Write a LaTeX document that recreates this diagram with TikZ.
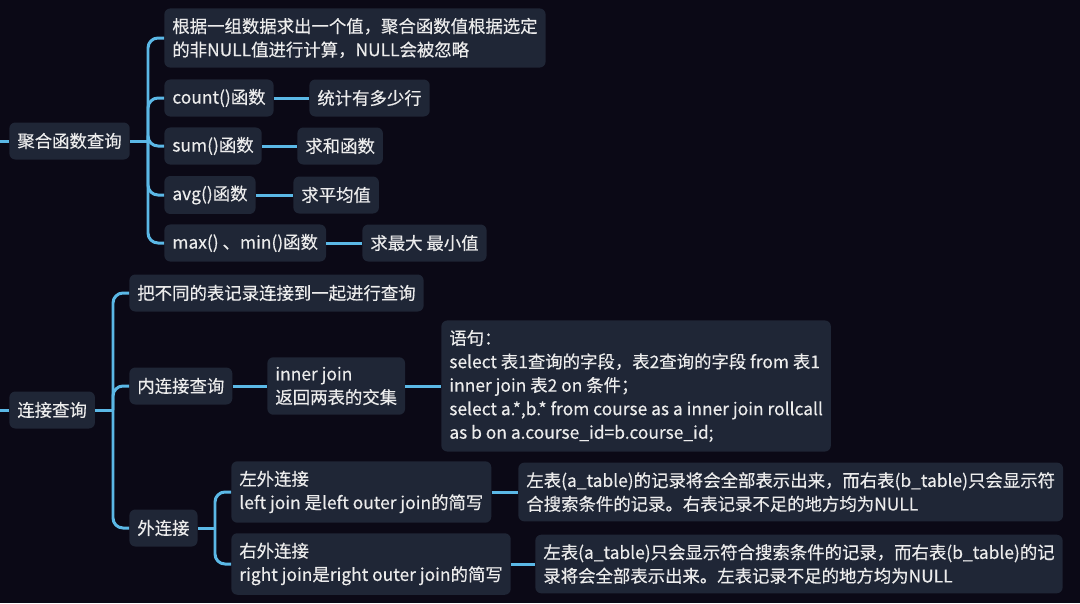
\documentclass[tikz,border=0pt]{standalone}
\usepackage{fontspec}
\setmainfont{Noto Sans CJK SC}[FakeBold=0.35]
\begin{document}
\begin{tikzpicture}[x=0.02cm, y=-0.02cm, line join=round]
  \definecolor{night}{HTML}{0B0916}
  \definecolor{slate}{HTML}{1F2636}
  \definecolor{sky}{HTML}{5BB8E6}
  \definecolor{chalk}{HTML}{ECECEC}
  \path[use as bounding box] (0,0) rectangle (1080,603);
  \fill[night] (0,0) rectangle (1080,603);
  \tikzset{
    topic/.style={fill=slate, text=chalk, rounded corners=1.2mm, anchor=west,
      align=left, inner xsep=1.6mm, inner ysep=1.9mm, minimum height=7.4mm,
      font=\fontsize{9.9pt}{13.4pt}\selectfont},
    link/.style={draw=sky, line width=1.7pt, rounded corners=2mm}
  }
  % Two roots; their lines run in from the left edge.
  \node[topic] (agg) at (9,141) {聚合函数查询};
  \node[topic] (join) at (9,410) {连接查询};
  \coordinate (aggin) at (0,141);
  \coordinate (joinin) at (0,410);
  \coordinate (aggfork) at (148,141);
  \coordinate (joinfork) at (113,410);
  % Aggregate functions.
  \node[topic] (aggdef) at (164,38) {根据一组数据求出一个值，聚合函数值根据选定\\的非NULL值进行计算，NULL会被忽略};
  \node[topic] (count) at (164,98) {count()函数};
  \node[topic] (sum) at (164,146) {sum()函数};
  \node[topic] (avg) at (164,195) {avg()函数};
  \node[topic] (maxmin) at (164,243) {max() 、min()函数};
  \node[topic] (countnote) at (309,98) {统计有多少行};
  \node[topic] (sumnote) at (297,146) {求和函数};
  \node[topic] (avgnote) at (293,195) {求平均值};
  \node[topic] (maxminnote) at (362,243) {求最大 最小值};
  % Joins.
  \node[topic] (joindef) at (129,293) {把不同的表记录连接到一起进行查询};
  \node[topic] (inner) at (129,386) {内连接查询};
  \node[topic] (innernote) at (267,386) {inner join\\返回两表的交集};
  \node[topic] (innersql) at (441,386) {语句：\\select 表1查询的字段，表2查询的字段 from 表1\\inner join 表2 on 条件；\\select a.*,b.* from course as a inner join rollcall\\as b on a.course\_id=b.course\_id;};
  \node[topic] (outer) at (129,528) {外连接};
  \coordinate (outerfork) at (215,528);
  \node[topic] (left) at (231,492) {左外连接\\left join 是left outer join的简写};
  \node[topic] (right) at (231,564) {右外连接\\right join是right outer join的简写};
  \node[topic] (leftnote) at (518,492) {左表(a\_table)的记录将会全部表示出来，而右表(b\_table)只会显示符\\合搜索条件的记录。右表记录不足的地方均为NULL};
  \node[topic] (rightnote) at (535,564) {左表(a\_table)只会显示符合搜索条件的记录，而右表(b\_table)的记\\录将会全部表示出来。左表记录不足的地方均为NULL};
  % Branches.
  \draw[link] (aggin) -- (agg.west);
  \draw[link] (joinin) -- (join.west);
  \draw[link] (agg.east) -- (aggfork);
  \foreach \n in {aggdef,count,sum,avg,maxmin}
    \draw[link] (aggfork) |- (\n.west);
  \draw[link] (count) -- (countnote);
  \draw[link] (sum) -- (sumnote);
  \draw[link] (avg) -- (avgnote);
  \draw[link] (maxmin) -- (maxminnote);
  \draw[link] (join.east) -- (joinfork);
  \foreach \n in {joindef,inner,outer}
    \draw[link] (joinfork) |- (\n.west);
  \draw[link] (inner) -- (innernote);
  \draw[link] (innernote) -- (innersql);
  \draw[link] (outer.east) -- (outerfork);
  \foreach \n in {left,right}
    \draw[link] (outerfork) |- (\n.west);
  \draw[link] (left) -- (leftnote);
  \draw[link] (right) -- (rightnote);
\end{tikzpicture}
\end{document}
